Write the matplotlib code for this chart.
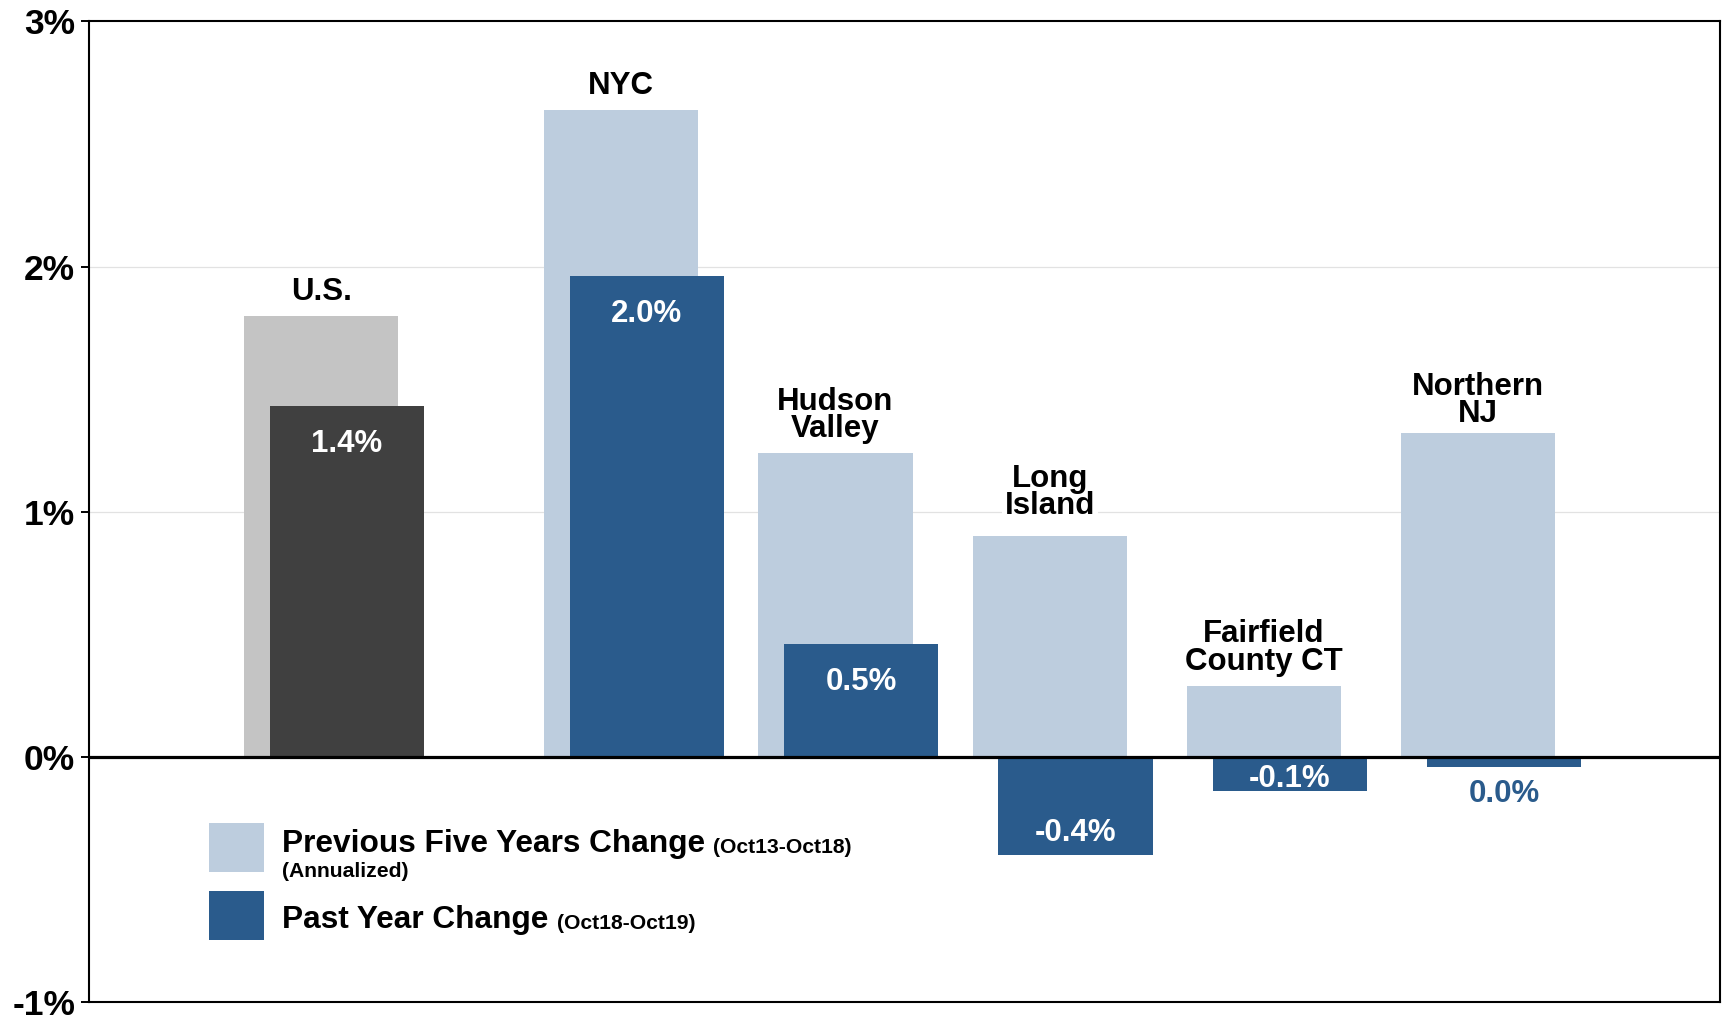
import matplotlib
matplotlib.use('Agg')
import matplotlib.pyplot as plt
from matplotlib.patches import Rectangle

# data
regions = ['U.S.', 'NYC', 'Hudson\nValley', 'Long\nIsland', 'Fairfield\nCounty CT', 'Northern\nNJ']
five_year = [1.80, 2.64, 1.24, 0.90, 0.29, 1.32]
past_year = [1.43, 1.96, 0.46, -0.40, -0.14, -0.04]
past_labels = ['1.4%', '2.0%', '0.5%', '-0.4%', '-0.1%', '0.0%']
y_ticks = [-1, 0, 1, 2, 3]
y_ticklabels = ['-1%', '0%', '1%', '2%', '3%']

LIGHT = '#BDCDDE'
DARK = '#2A5B8C'
US_LIGHT = '#C4C4C4'
US_DARK = '#404040'

plt.rcParams['font.family'] = ['Liberation Sans', 'DejaVu Sans']
plt.rcParams['font.weight'] = 'bold'

fig = plt.figure(figsize=(17.25, 10.19), dpi=100)
ax = fig.add_axes([0.0516, 0.0167, 0.9455, 0.9623])

# U.S. sits apart from the metro regions
xpos = [0] + [1.4 + i for i in range(len(regions) - 1)]
width = 0.72
off = 0.12

light_cols = [US_LIGHT] + [LIGHT] * (len(regions) - 1)
dark_cols = [US_DARK] + [DARK] * (len(regions) - 1)

ax.bar(xpos, five_year, width=width, color=light_cols, zorder=2)
ax.bar([x + off for x in xpos], past_year, width=width, color=dark_cols, zorder=3)

# region names above the light bars
for i, name in enumerate(regions):
    bb = None
    dy = 6.5
    if name.startswith('Long'):
        bb = dict(facecolor='white', edgecolor='none', pad=2)
        dy = 11
    elif name.startswith('Northern'):
        dy = 3
    ax.annotate(name, xy=(xpos[i], five_year[i]), xytext=(0, dy), textcoords='offset points',
                ha='center', va='bottom', fontsize=22.5, fontweight='bold',
                linespacing=0.88, bbox=bb, zorder=4)

# value labels on the dark bars
for i, v in enumerate(past_year):
    col = 'white'
    if v >= 0:
        dy = -27
    elif v < -0.2:
        dy = 16
    elif v > -0.1:
        dy = -20
        col = DARK
    else:
        dy = 9
    ax.annotate(past_labels[i], xy=(xpos[i] + off, v), xytext=(0, dy), textcoords='offset points',
                ha='center', va='center', fontsize=22.5, fontweight='bold', color=col, zorder=5)

ax.axhline(0, color='black', lw=2.3, zorder=6)
for g in [1, 2]:
    ax.axhline(g, color='#E2E2E2', lw=0.9, zorder=1)

ax.set_xlim(-1.083, 6.528)
ax.set_ylim(-1, 3)
ax.set_xticks([])
ax.set_yticks(y_ticks)
ax.set_yticklabels(y_ticklabels, fontsize=25.5, fontweight='bold')
ax.tick_params(axis='y', length=6, width=1.4, pad=4)
for s in ax.spines.values():
    s.set_linewidth(1.5)

# legend drawn by hand (mixed font sizes)
ax.add_patch(Rectangle((0.0736, 0.1325), 0.0337, 0.0500, transform=ax.transAxes,
                       facecolor=LIGHT, edgecolor='none', zorder=3))
ax.add_patch(Rectangle((0.0736, 0.0632), 0.0337, 0.0500, transform=ax.transAxes,
                       facecolor=DARK, edgecolor='none', zorder=3))
t1 = ax.text(0.1183, 0.1529, 'Previous Five Years Change', transform=ax.transAxes,
             fontsize=22.8, fontweight='bold', va='baseline', ha='left')
ax.annotate('(Oct13-Oct18)', xy=(1, 0), xycoords=t1, xytext=(6, 1.5), textcoords='offset points',
            fontsize=15.2, fontweight='bold', va='bottom', ha='left')
ax.text(0.1183, 0.1274, '(Annualized)', transform=ax.transAxes,
        fontsize=15.2, fontweight='bold', va='baseline', ha='left')
t2 = ax.text(0.1183, 0.0754, 'Past Year Change', transform=ax.transAxes,
             fontsize=22.8, fontweight='bold', va='baseline', ha='left')
ax.annotate('(Oct18-Oct19)', xy=(1, 0), xycoords=t2, xytext=(6, 1.5), textcoords='offset points',
            fontsize=15.2, fontweight='bold', va='bottom', ha='left')

fig.savefig('out.png', dpi=100)
